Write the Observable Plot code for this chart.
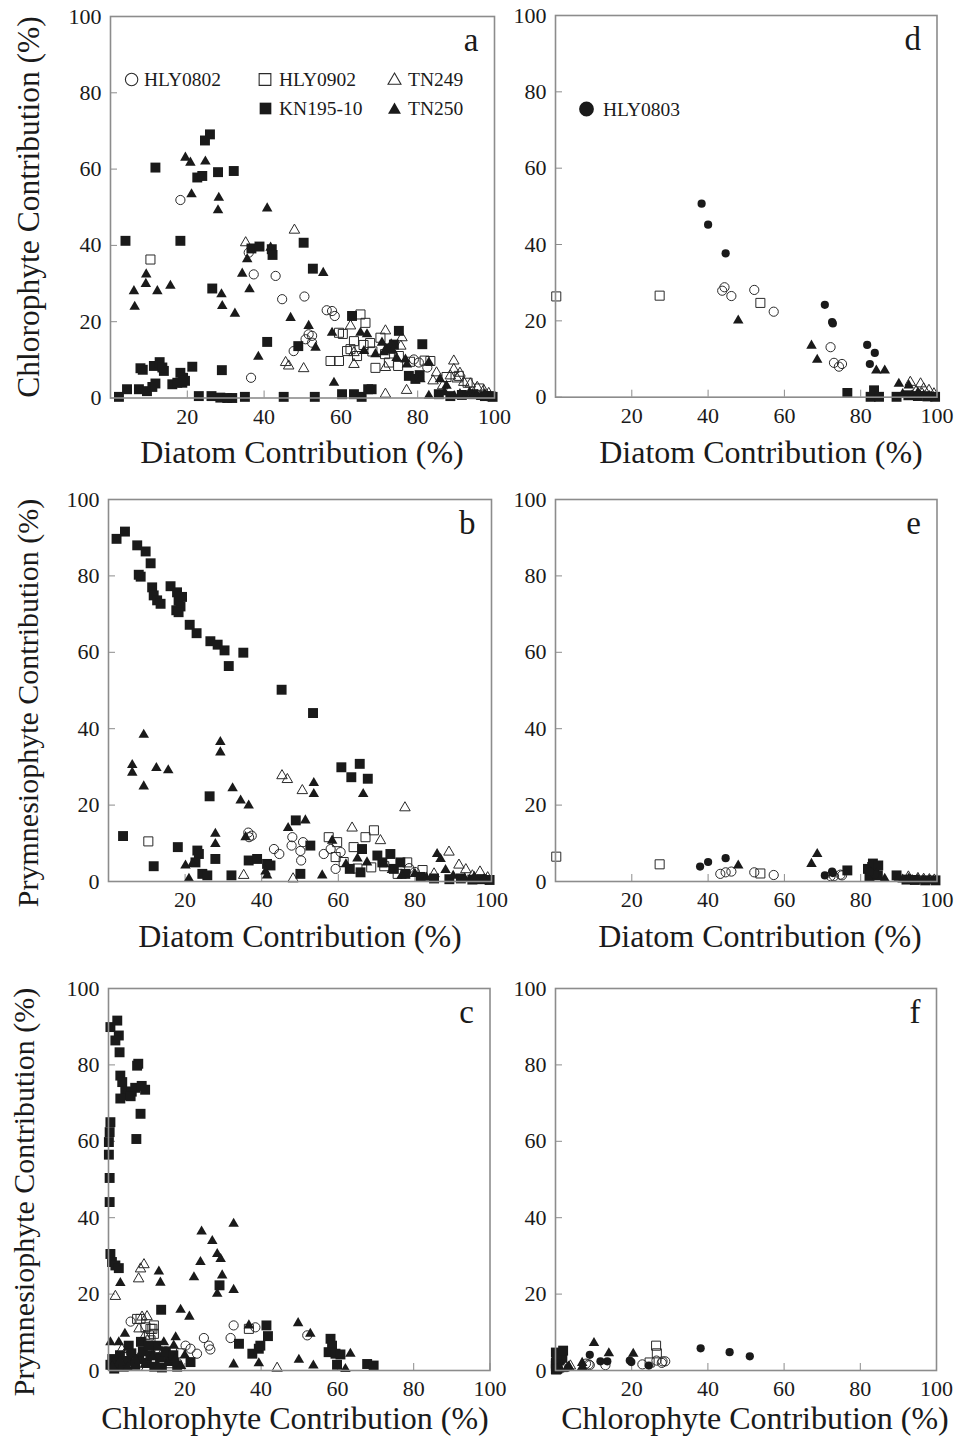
<!DOCTYPE html>
<html>
<head>
<meta charset="utf-8">
<script src="https://cdn.jsdelivr.net/npm/d3@7"></script>
<script src="https://cdn.jsdelivr.net/npm/@observablehq/plot@0.6"></script>
<style>
  html, body { margin: 0; padding: 0; background: #ffffff; }
  #fig { position: relative; width: 958px; height: 1439px; background: #ffffff; overflow: hidden; }
  #fig svg { position: absolute; font-family: "Liberation Serif", "Times New Roman", Times, serif !important; }
  #fig svg text { font-family: "Liberation Serif", "Times New Roman", Times, serif !important; }
</style>
</head>
<body>
<div id="fig"></div>
<script>
// ---- Tick values ----
const xTicks = [20, 40, 60, 80, 100];
const yTicks = [0, 20, 40, 60, 80, 100];

// ---- Panel a: Chlorophyte vs Diatom contribution (%) ----
const a_HLY0802 = [[18.2,51.9],[36.0,38.1],[37.3,32.4],[43.0,32.0],[44.7,25.9],[50.5,26.6],[36.6,5.3],[47.7,12.3],[56.3,23.0],[57.7,22.8],[58.4,21.5],[51.6,16.7],[52.5,16.3],[50.8,15.4],[52.5,14.5],[79.0,10.1],[80.3,9.3],[82.5,8.0]];
const a_HLY0902 = [[10.4,36.3],[65.1,21.9],[66.4,19.7],[59.5,17.1],[63.4,14.9],[61.6,12.3],[57.3,9.7],[59.5,9.7],[64.2,11.0],[65.9,13.9],[67.6,14.4],[70.3,15.8],[69.0,7.9],[72.5,9.3],[74.9,8.4],[75.1,11.0],[83.3,9.7],[90.7,5.8],[99.0,0.5],[60.5,16.8],[62.5,12.8],[68.2,12.2],[71.5,11.5],[78.0,9.5],[81.8,9.8],[93.0,4.0],[96.0,2.5],[87.5,5.5]];
const a_TN249 = [[35.2,40.7],[47.9,44.0],[45.6,9.3],[46.4,8.4],[50.3,7.7],[71.6,1.0],[77.1,2.0],[62.5,18.9],[63.4,8.8],[71.6,17.6],[75.9,15.8],[75.6,13.6],[89.4,9.7],[89.4,7.5],[88.5,5.8],[90.3,5.0],[92.0,4.1],[93.7,3.7],[95.5,2.8],[97.2,2.0],[84.9,6.6],[84.0,4.5],[63.4,11.9],[71.6,8.0],[98.5,1.2],[91.0,6.5],[86.5,3.2]];
const a_KN195 = [[3.9,41.2],[11.7,60.4],[18.2,41.2],[22.6,57.8],[23.9,58.2],[24.6,67.5],[25.9,69.1],[28.0,59.2],[32.1,59.5],[26.5,28.7],[36.7,39.2],[38.8,39.7],[42.0,39.0],[42.2,37.5],[50.3,40.7],[52.7,33.9],[40.8,14.7],[48.9,13.6],[29.0,7.3],[62.9,21.5],[75.1,17.6],[81.2,14.1],[73.8,14.0],[77.7,5.8],[79.4,5.0],[2.2,0.3],[4.3,2.3],[7.8,7.8],[8.4,7.4],[7.4,2.3],[9.5,1.8],[10.9,2.9],[11.7,3.8],[11.3,8.4],[12.8,9.4],[13.9,7.1],[13.5,8.0],[16.1,3.6],[17.4,4.0],[18.2,6.6],[18.9,5.3],[18.7,4.0],[19.4,4.5],[21.3,8.2],[23.0,0.5],[26.3,0.5],[28.6,0.1],[30.4,0.0],[31.7,0.0],[35.0,0.3],[45.1,0.3],[53.2,0.3],[60.3,1.0],[63.4,1.0],[65.4,0.3],[67.1,2.3],[68.0,2.3],[85.5,1.0],[88.5,0.5],[91.5,0.8],[94.5,1.0],[97.5,0.5],[99.5,0.3],[72.5,13.0],[80.5,6.0]];
const a_TN250 = [[6.1,28.0],[6.3,23.9],[9.3,32.4],[9.2,29.9],[12.2,28.0],[15.6,29.4],[19.5,63.0],[20.8,61.7],[24.7,62.0],[21.1,53.4],[28.2,52.5],[28.0,49.2],[40.8,49.7],[35.6,36.4],[34.3,32.6],[36.2,28.5],[28.9,27.2],[29.1,24.1],[32.4,22.1],[41.7,39.4],[46.9,21.0],[38.5,10.8],[55.4,32.8],[51.6,18.9],[53.4,13.2],[57.7,17.1],[65.1,17.1],[66.8,16.7],[66.0,12.3],[70.7,14.5],[73.1,14.1],[73.5,12.4],[71.2,12.0],[76.8,10.1],[77.2,8.8],[82.9,9.3],[80.7,4.9],[58.2,4.0],[82.9,0.6],[85.5,0.6],[85.8,4.9],[87.5,3.2],[87.0,1.5],[89.5,0.5],[91.0,1.0],[92.5,0.5],[93.5,1.5],[94.5,0.5],[95.5,0.8],[96.5,0.3],[97.5,1.0],[99.0,0.3],[74.5,10.5],[69.0,11.5]];

// ---- Panel b: Prymnesiophyte vs Diatom contribution (%) ----
const b_HLY0802 = [[36.5,12.8],[37.4,12.0],[36.7,11.6],[43.2,8.5],[44.6,7.2],[47.8,9.4],[50.1,8.0],[50.3,5.5],[48.0,11.6],[50.8,10.3],[56.2,7.2],[58.0,8.5],[60.6,7.7],[59.3,3.3],[78.5,3.5],[80.0,2.5]];
const b_HLY0902 = [[10.4,10.5],[57.5,11.6],[59.7,10.3],[67.1,11.6],[69.3,13.4],[64.0,9.0],[59.3,6.4],[61.4,5.1],[65.0,3.4],[68.6,3.7],[72.0,4.0],[75.5,2.0],[78.0,5.0],[82.0,3.0]];
const b_TN249 = [[35.3,1.6],[45.3,27.7],[46.7,26.7],[48.2,0.7],[50.6,23.8],[63.6,14.0],[77.4,19.3],[71.0,10.7],[88.9,7.7],[91.5,4.3],[93.3,3.1],[85.0,2.0],[95.0,1.5],[97.0,2.5],[99.0,1.0]];
const b_KN195 = [[2.1,89.7],[4.3,91.6],[7.5,88.0],[9.7,86.4],[11.0,83.3],[7.9,80.3],[8.4,79.8],[11.4,77.0],[11.8,74.9],[12.7,73.6],[13.6,72.7],[16.2,77.3],[17.9,75.7],[18.3,73.5],[18.8,72.0],[17.7,71.0],[18.3,70.5],[19.2,74.5],[21.2,67.2],[23.0,65.0],[26.6,62.9],[28.5,62.0],[30.3,60.5],[31.4,56.4],[35.2,59.9],[45.2,50.2],[26.4,22.3],[3.8,11.9],[11.8,4.0],[18.1,9.0],[23.2,8.1],[23.6,7.2],[22.7,5.0],[27.9,5.9],[24.5,2.0],[25.8,1.6],[32.1,1.6],[36.6,5.5],[38.8,5.9],[41.4,4.6],[42.3,4.2],[48.9,16.0],[50.1,2.0],[53.4,44.1],[60.8,29.9],[63.4,27.3],[65.6,30.8],[67.7,26.9],[52.7,9.4],[63.0,3.3],[65.8,2.4],[66.2,8.5],[70.2,6.8],[71.5,5.0],[73.6,7.2],[74.5,3.3],[76.2,5.0],[77.5,2.0],[81.5,1.2],[85.0,0.8],[89.0,0.6],[92.0,0.8],[95.0,0.5],[97.5,0.6],[99.5,0.4]];
const b_TN250 = [[9.2,38.4],[6.2,30.5],[6.2,28.5],[9.2,24.9],[12.5,29.7],[15.6,29.1],[29.2,36.5],[29.2,33.8],[32.4,24.4],[34.5,21.2],[36.6,19.9],[27.9,12.5],[27.9,9.8],[20.1,4.2],[21.0,0.7],[21.9,4.6],[35.8,11.6],[46.9,14.0],[41.0,2.6],[41.4,1.6],[53.6,25.8],[53.6,22.9],[66.5,22.9],[51.4,16.0],[55.8,1.6],[58.4,10.7],[85.8,7.2],[86.7,5.9],[62.0,4.5],[65.0,6.0],[67.5,5.0],[72.0,4.5],[74.0,3.0],[76.5,1.5],[80.0,2.0],[83.0,1.0],[88.0,3.0],[90.0,1.5],[93.0,0.8],[95.5,1.2],[98.0,0.6]];

// ---- Panel c: Prymnesiophyte vs Chlorophyte contribution (%) ----
const c_HLY0802 = [[5.8,12.8],[32.8,11.8],[38.5,11.3],[32.0,8.5],[25.0,8.5],[26.3,6.5],[26.7,5.5],[21.5,5.7],[23.2,4.4],[20.2,6.5],[52.1,9.2],[12.0,3.0],[15.0,5.0],[18.0,2.0]];
const c_HLY0902 = [[7.5,13.5],[9.7,11.3],[11.0,10.9],[11.9,11.8],[10.6,9.2],[8.4,13.5],[11.5,10.9],[11.9,9.6],[11.0,7.9],[36.8,10.9],[13.0,5.0],[16.0,3.0],[19.0,4.5],[10.0,2.0]];
const c_TN249 = [[1.8,19.4],[7.9,24.0],[8.4,26.6],[9.3,27.7],[8.8,14.0],[8.0,10.9],[10.1,14.1],[44.2,0.6],[2.0,2.0],[4.0,4.0],[6.0,1.5],[8.0,3.5],[10.0,0.8],[12.0,2.5],[14.0,4.5],[16.0,1.5],[3.5,5.5],[9.5,9.0]];
const c_KN195 = [[0.5,89.9],[2.3,91.6],[2.7,87.7],[1.8,86.4],[2.9,83.3],[7.8,80.3],[7.5,79.8],[3.1,77.2],[3.6,75.5],[4.4,73.0],[5.2,72.0],[6.1,73.0],[7.0,74.0],[8.7,74.5],[9.6,73.5],[3.1,71.2],[5.8,71.8],[8.4,67.2],[7.3,60.6],[0.5,65.0],[0.3,62.4],[0.1,59.8],[0.1,56.5],[0.3,50.4],[0.3,44.1],[0.5,30.5],[0.9,28.4],[1.8,27.5],[2.7,26.8],[29.1,22.3],[13.8,15.9],[41.4,11.8],[41.8,9.0],[34.2,7.0],[37.7,4.4],[39.4,5.7],[39.8,6.5],[21.5,2.2],[5.3,6.5],[58.2,8.3],[58.6,6.5],[57.7,4.8],[59.5,4.4],[60.8,4.2],[59.9,1.5],[67.8,1.7],[69.5,1.3],[0.5,1.5],[1.0,3.0],[1.5,0.5],[2.0,2.0],[3.0,4.0],[4.0,1.0],[5.0,2.5],[6.0,4.5],[7.0,1.5],[8.0,3.0],[9.0,5.0],[10.0,2.0],[11.0,4.0],[12.0,1.0],[12.5,6.5],[13.5,3.5],[14.0,0.8],[15.0,5.0],[16.0,2.5],[17.0,4.0],[18.0,1.0],[8.5,7.5],[10.5,6.5]];
const c_TN250 = [[32.8,38.4],[24.4,36.4],[27.2,33.9],[28.5,30.5],[29.4,29.2],[24.1,28.4],[29.8,24.9],[22.4,24.4],[28.5,20.1],[32.8,21.1],[13.2,25.9],[13.6,23.0],[3.1,22.9],[18.9,15.9],[21.2,14.1],[4.3,9.6],[17.6,8.7],[0.5,7.4],[36.8,11.8],[32.8,1.6],[39.4,1.9],[49.7,12.4],[52.9,9.6],[49.9,2.8],[53.7,1.3],[62.1,0.4],[63.4,4.4],[2.7,7.4],[14.5,7.4],[17.1,6.5],[1.0,1.0],[3.0,2.5],[5.0,0.8],[7.0,3.0],[9.5,1.5],[11.5,3.5],[13.0,1.0],[15.5,2.0],[17.5,3.0],[19.0,1.2],[20.0,4.0]];

// ---- Panel d: Chlorophyte vs Diatom contribution (%) ----
const d_HLY0803 = [[38.3,50.7],[40.0,45.2],[44.6,37.7],[70.6,24.2],[72.5,19.7],[72.7,19.3],[81.7,13.7],[83.7,11.6],[82.4,8.7]];
const d_HLY0802 = [[43.7,27.9],[44.3,28.8],[46.1,26.5],[52.1,28.1],[57.2,22.4],[72.1,13.1],[73.0,9.0],[74.3,8.0],[75.1,8.7]];
const d_HLY0902 = [[0.2,26.4],[27.3,26.6],[53.7,24.7]];
const d_TN249 = [[93.0,3.9],[95.7,3.5],[96.5,2.2],[97.9,1.8],[99.2,0.9],[96.1,0.9],[94.5,1.5]];
const d_KN195 = [[76.5,1.1],[83.5,1.8],[82.6,0.1],[84.8,0.1],[89.4,0.1],[92.5,0.5],[95.0,0.3],[97.5,0.2],[99.5,0.1]];
const d_TN250 = [[47.9,20.1],[67.1,13.5],[68.6,9.8],[84.1,7.0],[86.3,7.0],[90.0,3.5],[92.6,3.1],[91.0,0.8],[93.5,0.5],[95.0,1.2],[96.5,0.5],[98.0,0.3]];

// ---- Panel e: Prymnesiophyte vs Diatom contribution (%) ----
const e_HLY0803 = [[37.9,3.9],[40.0,5.1],[44.6,6.1],[70.6,1.6],[72.5,2.6],[72.7,2.2],[81.7,3.2],[83.7,1.8],[82.4,2.5]];
const e_HLY0802 = [[43.2,2.0],[44.6,2.4],[46.1,2.6],[52.1,2.4],[57.2,1.7],[72.1,1.4],[73.0,1.4],[74.7,1.8],[75.1,1.6]];
const e_HLY0902 = [[0.2,6.5],[27.3,4.5],[53.7,2.1]];
const e_TN249 = [[92.5,1.2],[95.0,0.8],[96.5,0.6],[98.0,0.5],[99.3,0.4]];
const e_KN195 = [[76.5,2.9],[81.9,3.3],[83.2,4.7],[83.6,2.0],[82.3,1.2],[84.5,1.6],[83.0,3.8],[84.6,4.2],[89.4,1.6],[92.0,0.5],[94.2,0.4],[96.9,0.3],[99.6,0.3]];
const e_TN250 = [[47.9,4.2],[67.1,4.6],[68.6,7.2],[84.1,2.0],[86.3,0.7],[90.0,1.0],[92.6,0.8],[91.0,0.5],[93.5,0.4],[95.0,0.6],[96.5,0.3],[98.0,0.3]];

// ---- Panel f: Prymnesiophyte vs Chlorophyte contribution (%) ----
const f_HLY0803 = [[51.0,3.7],[45.7,4.8],[38.1,5.8],[24.5,1.3],[19.9,2.2],[19.5,2.6],[13.6,2.4],[11.8,2.4],[9.0,4.1]];
const f_HLY0802 = [[27.9,2.0],[28.8,2.4],[26.5,2.6],[28.1,2.4],[22.8,1.6],[13.1,1.4],[9.0,1.4],[8.0,1.8],[8.7,1.6]];
const f_HLY0902 = [[26.4,6.5],[26.6,4.5],[24.7,2.1]];
const f_TN249 = [[3.9,1.2],[3.5,0.8],[2.2,0.6],[1.8,0.5],[0.9,0.4]];
const f_KN195 = [[1.1,2.9],[1.8,3.3],[0.1,4.7],[0.1,2.0],[0.1,1.2],[0.5,1.6],[0.3,3.8],[2.0,5.2],[0.1,1.6],[0.5,0.5],[0.3,0.4],[0.2,0.3],[0.1,0.3]];
const f_TN250 = [[20.4,4.4],[14.0,4.5],[10.1,7.2],[7.0,2.0],[7.0,0.9],[3.5,1.0],[3.1,0.8],[0.8,0.5],[0.5,0.4],[1.2,0.6],[0.5,0.3],[0.3,0.3]];

// ---- Cruise symbols ----
const cruiseStyle = {
  "HLY0802":  {symbol: "circle",   r: 4.6, filled: false},
  "HLY0902":  {symbol: "square",   r: 5.1, filled: false},
  "TN249":    {symbol: "triangle", r: 3.9, filled: false},
  "KN195-10": {symbol: "square",   r: 5.6, filled: true},
  "TN250":    {symbol: "triangle", r: 3.9, filled: true},
  "HLY0803":  {symbol: "circle",   r: 4.1, filled: true}
};

const FONT = '"Liberation Serif", "Times New Roman", Times, serif';
const INK = "#1a1a1a";
const OUTLINE = "#2a2a2a";
const FRAME = "#8c8c8c";

// frame box [left, top, right, bottom] of each panel on the page
const panels = [
  {letter: "a", box: [110, 15.5, 494, 397], series: [["HLY0802", a_HLY0802], ["HLY0902", a_HLY0902], ["TN249", a_TN249], ["KN195-10", a_KN195], ["TN250", a_TN250]]},
  {letter: "d", box: [555, 15, 936.5, 396.7], series: [["HLY0802", d_HLY0802], ["HLY0902", d_HLY0902], ["TN249", d_TN249], ["KN195-10", d_KN195], ["TN250", d_TN250], ["HLY0803", d_HLY0803]]},
  {letter: "b", box: [108, 499, 491, 881], series: [["HLY0802", b_HLY0802], ["HLY0902", b_HLY0902], ["TN249", b_TN249], ["KN195-10", b_KN195], ["TN250", b_TN250]]},
  {letter: "e", box: [555, 499, 936.5, 881], series: [["HLY0802", e_HLY0802], ["HLY0902", e_HLY0902], ["TN249", e_TN249], ["KN195-10", e_KN195], ["TN250", e_TN250], ["HLY0803", e_HLY0803]]},
  {letter: "c", box: [108, 988, 489.5, 1370], series: [["HLY0802", c_HLY0802], ["HLY0902", c_HLY0902], ["TN249", c_TN249], ["KN195-10", c_KN195], ["TN250", c_TN250]]},
  {letter: "f", box: [555, 988, 936, 1370], series: [["HLY0802", f_HLY0802], ["HLY0902", f_HLY0902], ["TN249", f_TN249], ["KN195-10", f_KN195], ["TN250", f_TN250], ["HLY0803", f_HLY0803]]}
];

const fig = document.getElementById("fig");

function drawPanel(p) {
  const [L, T, R, B] = p.box;
  const m = {l: 62, t: 18, r: 26, b: 42};
  const dots = p.series.map(([cruise, values]) => {
    const st = cruiseStyle[cruise];
    return Plot.dot(values, {
      x: d => d[0], y: d => d[1],
      symbol: st.symbol, r: st.r,
      fill: st.filled ? INK : "none",
      stroke: st.filled ? "none" : OUTLINE,
      strokeWidth: st.filled ? 0 : 1
    });
  });
  const svg = Plot.plot({
    width: R - L + m.l + m.r,
    height: B - T + m.t + m.b,
    marginLeft: m.l, marginRight: m.r, marginTop: m.t, marginBottom: m.b,
    x: {domain: [0, 100]},
    y: {domain: [0, 100]},
    style: {fontFamily: FONT, fontSize: "22px", color: INK, background: "transparent", overflow: "visible"},
    marks: [
      Plot.axisX({ticks: xTicks, tickSize: -7, tickPadding: 17, stroke: FRAME, fill: INK, label: null, tickFormat: d => String(d)}),
      Plot.axisY({ticks: yTicks, tickSize: -7, tickPadding: 16, stroke: FRAME, fill: INK, label: null, tickFormat: d => String(d)}),
      ...dots,
      Plot.frame({stroke: FRAME, strokeWidth: 1.6}),
      Plot.text([p.letter], {text: d => d, frameAnchor: "top-right", dx: -16, dy: 24, fontSize: 33, textAnchor: "end", lineAnchor: "middle", fill: INK})
    ]
  });
  svg.style.left = (L - m.l) + "px";
  svg.style.top = (T - m.t) + "px";
  svg.style.fontFamily = FONT;
  fig.appendChild(svg);
}

panels.forEach(drawPanel);

// ---- Axis titles and legends ----
const overlay = d3.select(fig).append("svg")
  .attr("width", 958).attr("height", 1439)
  .style("left", "0px").style("top", "0px")
  .style("pointer-events", "none")
  .attr("font-family", FONT).attr("fill", INK);

const xTitles = [
  {text: "Diatom Contribution (%)", x: 302, y: 463},
  {text: "Diatom Contribution (%)", x: 761, y: 463},
  {text: "Diatom Contribution (%)", x: 300, y: 947},
  {text: "Diatom Contribution (%)", x: 760, y: 947},
  {text: "Chlorophyte Contribution (%)", x: 295, y: 1429},
  {text: "Chlorophyte Contribution (%)", x: 755, y: 1429}
];
const yTitles = [
  {text: "Chlorophyte Contribution (%)", x: 39, y: 207, size: 31.5},
  {text: "Prymnesiophyte Contribution (%)", x: 38, y: 703, size: 30},
  {text: "Prymnesiophyte Contribution (%)", x: 34, y: 1192, size: 30}
];
overlay.selectAll("text.xt").data(xTitles).join("text")
  .attr("class", "xt").attr("x", d => d.x).attr("y", d => d.y)
  .attr("text-anchor", "middle").attr("font-size", 32).text(d => d.text);
overlay.selectAll("text.yt").data(yTitles).join("text")
  .attr("class", "yt").attr("transform", d => `translate(${d.x},${d.y}) rotate(-90)`)
  .attr("text-anchor", "middle").attr("font-size", d => d.size).text(d => d.text);

const legendItems = [
  {cruise: "HLY0802", x: 131.6, y: 79.5, tx: 144, ty: 86},
  {cruise: "HLY0902", x: 265, y: 79.5, tx: 279, ty: 86},
  {cruise: "TN249", x: 394.5, y: 80.5, tx: 408, ty: 86},
  {cruise: "KN195-10", x: 265.5, y: 108.5, tx: 279, ty: 115},
  {cruise: "TN250", x: 394.5, y: 110, tx: 408, ty: 115},
  {cruise: "HLY0803", x: 586.5, y: 109, tx: 603, ty: 116}
];
const legendSize = {circle: 6.2, square: 6.6, triangle: 4.8};
legendItems.forEach(it => {
  const st = cruiseStyle[it.cruise];
  const rr = it.cruise === "HLY0803" ? 7.4 : legendSize[st.symbol];
  const sym = st.symbol === "circle" ? d3.symbolCircle : st.symbol === "square" ? d3.symbolSquare : d3.symbolTriangle;
  overlay.append("path")
    .attr("transform", `translate(${it.x},${it.y})`)
    .attr("d", d3.symbol(sym, Math.PI * rr * rr)())
    .attr("fill", st.filled ? INK : "none")
    .attr("stroke", st.filled ? "none" : OUTLINE)
    .attr("stroke-width", 1.1);
  overlay.append("text").attr("x", it.tx).attr("y", it.ty)
    .attr("font-size", 19.5).text(it.cruise);
});
</script>
</body>
</html>
